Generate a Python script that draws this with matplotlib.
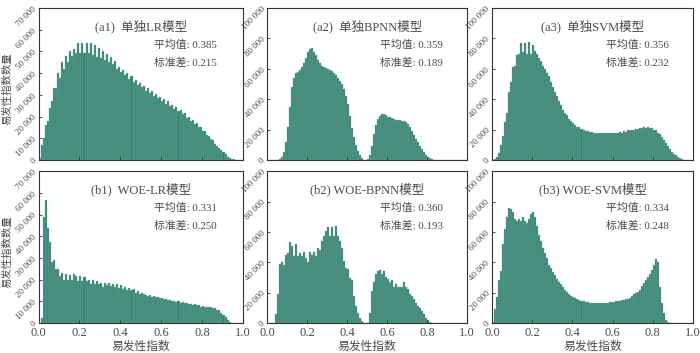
import matplotlib
matplotlib.use("Agg")
import matplotlib.pyplot as plt
from matplotlib.ticker import FuncFormatter, MultipleLocator

plt.rcParams['font.family'] = ['Liberation Serif', 'Noto Sans CJK SC']
plt.rcParams['axes.unicode_minus'] = False

# bin left edges 0.00 ... 0.99, width 0.01; counts in thousands
bins = [i / 100 for i in range(100)]

lr = [1, 7, 10, 16, 18, 24, 27, 33, 33, 40,
      38, 45, 42, 48, 45, 50, 48, 51, 49.5, 54,
      49.5, 54, 49.5, 54, 49.5, 54, 48.5, 53, 47.5, 51.5,
      47, 50, 46, 49, 45, 47.5, 44, 45.5, 42, 43,
      40.5, 41.5, 39, 40, 37.5, 38.5, 36, 37, 34.5, 35.5,
      33.5, 34, 32, 33, 31, 32, 29.5, 30.5, 28.5, 29,
      27, 28, 26, 27, 25, 25.5, 23.5, 24.5, 22.5, 23,
      21, 21.5, 19.5, 20, 18, 18.5, 16.5, 17, 15, 15,
      13.5, 13.5, 11.5, 11, 9.5, 9, 7.5, 6.5, 5.5, 4.5,
      3.5, 2.5, 1.5, 1, 0.5, 0.2, 0, 0, 0, 0]

bpnn = [0, 0, 0, 0, 0, 0, 0.5, 2, 5, 12,
        22, 35, 48, 54, 57, 58, 59, 61, 64, 67,
        71, 73, 73.5, 71, 69, 66, 64, 62, 61, 60.5,
        60, 59.5, 58.5, 57.5, 56, 54, 52, 50, 47, 42,
        37, 29, 21, 15, 10, 6, 3, 1, 0, 0,
        0.5, 3, 9, 17, 23, 27, 29, 30, 30, 29.5,
        28.5, 28, 27.5, 27, 26.5, 26, 26, 25.5, 25.5, 25,
        23.5, 21.5, 19, 16.5, 14, 11.5, 9, 7, 5, 3.5,
        2, 1, 0.3, 0, 0, 0, 0, 0, 0, 0,
        0, 0, 0, 0, 0, 0, 0, 0, 0, 0]

svm = [0, 0.5, 2, 4.5, 10, 16, 25, 31, 45, 51,
       61, 62, 69, 70, 77, 71, 77, 70, 78, 70,
       76, 72, 70, 67, 65, 62, 60, 57, 55, 51,
       48, 45, 42, 39, 36, 33, 31, 29.5, 27, 25.5,
       24.5, 23, 22, 21.5, 20.5, 19.5, 19, 19, 18.5, 18.5,
       18, 18, 17.5, 18, 17.5, 18, 17.5, 18, 18, 17.5,
       18, 18, 18, 18.5, 18, 19, 18.5, 19.5, 19.5, 20,
       20, 20.5, 20.5, 21, 21, 21.5, 21, 21.5, 21, 21,
       20, 19.5, 18, 17, 15, 13, 11, 9, 7, 5.5,
       4, 3, 2, 1.2, 0.4, 0, 0, 0, 0, 0]

woe_lr = [0, 2.5, 49, 56.6, 43.8, 37.4, 28, 29, 25, 25,
          21.5, 23, 20, 22.5, 20, 22, 20, 22.5, 21.5, 19.5,
          21.5, 19.5, 21, 19.5, 20, 18, 19.7, 17.8, 19.4, 17.8,
          18.5, 16.5, 18.5, 17.4, 18.5, 17, 18, 16.6, 18, 16.3,
          17.5, 15.8, 16.5, 15.4, 16, 15, 15.5, 14, 14.8, 13.6,
          14, 13.2, 13, 12.5, 12.8, 12.2, 12.3, 11.8, 11.9, 11.4,
          11.5, 11, 11.2, 10.6, 10.8, 10.2, 10.3, 9.8, 10, 9.4,
          9.6, 9.1, 9.3, 8.8, 8.9, 8.5, 8.6, 8.1, 8.2, 7.6,
          7.8, 7.4, 7.6, 7.2, 7.4, 6.8, 6.9, 6.2, 5.8, 4.8,
          3.8, 2.6, 1.5, 0.6, 0.1, 0, 0, 0, 0, 0]

woe_bpnn = [0, 0, 0, 0, 5.6, 19, 39, 40, 38, 45,
            46, 53.5, 50.5, 44, 52, 44, 46, 44, 47, 43,
            40.5, 47, 45, 47, 44, 49.5, 48, 54, 57, 60.5,
            63, 57, 63, 57, 64, 57, 54, 49.5, 41, 36.5,
            35.5, 29.5, 28, 18, 11, 6.7, 3, 1, 0.3, 0,
            0, 6.7, 21, 27, 32.5, 34, 35, 32.5, 34, 30,
            29, 27, 28, 24, 26, 23.5, 24, 23.5, 27, 24,
            22.5, 19, 18, 15.7, 13.5, 11, 10, 8, 5.6, 3.4,
            1.8, 0.8, 0.3, 0, 0, 0, 0, 0, 0, 0,
            0, 0, 0, 0, 0, 0, 0, 0, 0, 0]

woe_svm = [0.5, 9, 17, 28, 34, 52, 62, 70, 76, 75,
           73, 68.5, 67.5, 68.5, 67.5, 70, 67.5, 66, 68.5, 72,
           73, 70, 64, 58, 54, 49.5, 46, 42.7, 38, 36,
           33.7, 31.5, 29, 27, 25.4, 23.6, 22, 20.7, 19, 18,
           16.9, 16.2, 15.7, 15.3, 14.6, 14.6, 14, 14, 13.5, 13.3,
           13.2, 13, 13, 12.9, 13, 13.2, 13.3, 13.5, 13.6, 13.9,
           14, 14.2, 14.5, 14.8, 15, 15.2, 15.6, 16, 16.5, 17.5,
           19, 19.5, 20.5, 22, 24.5, 26.5, 28, 30, 32.5, 35,
           38, 42, 40, 24, 13, 6.5, 2, 0.7, 0.2, 0,
           0, 0, 0, 0, 0, 0, 0, 0, 0, 0]

titles = ['(a1)  单独LR模型', '(a2)  单独BPNN模型', '(a3)  单独SVM模型',
          '(b1)  WOE-LR模型', '(b2) WOE-BPNN模型', '(b3) WOE-SVM模型']
means = ['0.385', '0.359', '0.356', '0.331', '0.360', '0.334']
stds = ['0.215', '0.189', '0.232', '0.250', '0.193', '0.248']
series = [lr, bpnn, svm, woe_lr, woe_bpnn, woe_svm]
ymax = [70000, 100000, 100000, 70000, 100000, 100000]
ystep = [10000, 20000, 20000, 10000, 20000, 20000]

text_color = '#4a4a4a'
bar_face = '#35806f'
bar_edge = '#86bdb0'

fig = plt.figure(figsize=(7, 3.53), dpi=100)
lefts = [0.055, 0.382, 0.703]
widths = [0.292, 0.285, 0.287]
bottoms = [0.547, 0.085]
height = 0.43


def fmt(v, pos):
    return '{:,}'.format(int(v)).replace(',', ' ')


for k in range(6):
    row, col = divmod(k, 3)
    ax = fig.add_axes([lefts[col], bottoms[row], widths[col], height])
    vals = [v * 1000 for v in series[k]]
    ax.bar(bins, vals, width=0.01, align='edge', color=bar_face,
           edgecolor=bar_edge, linewidth=0.25)
    ax.set_xlim(0, 1.0)
    ax.set_ylim(0, ymax[k])
    ax.xaxis.set_major_locator(MultipleLocator(0.2))
    ax.yaxis.set_major_locator(MultipleLocator(ystep[k]))
    ax.yaxis.set_major_formatter(FuncFormatter(fmt))
    ax.tick_params(direction='in', length=2.5, width=0.6, colors='#333333',
                   labelcolor=text_color, labelsize=7.5)
    ax.tick_params(axis='x', labelsize=9, pad=3)
    ax.tick_params(axis='y', pad=0.5)
    for lab in ax.get_yticklabels():
        lab.set_rotation(45)
        lab.set_fontsize(6.5)
    for s in ax.spines.values():
        s.set_linewidth(0.8)
        s.set_color('#333333')
    if row == 0:
        ax.set_xticklabels([])
    else:
        ax.xaxis.set_major_formatter(FuncFormatter(lambda v, p: '%.1f' % v))
        ax.set_xlabel('易发性指数', fontsize=8.5, color=text_color, labelpad=1)
    if col == 0:
        ax.set_ylabel('易发性指数数量', fontsize=7.5, color=text_color)
        ax.yaxis.set_label_coords(-0.125, 0.47)
    ax.text(0.5, 0.88, titles[k], transform=ax.transAxes, ha='center',
            va='center', fontsize=9, color=text_color)
    ax.text(0.565, 0.76, '平均值: ' + means[k], transform=ax.transAxes,
            ha='left', va='center', fontsize=7.8, color=text_color)
    ax.text(0.565, 0.64, '标准差: ' + stds[k], transform=ax.transAxes,
            ha='left', va='center', fontsize=7.8, color=text_color)

fig.savefig('out.png', dpi=100)
